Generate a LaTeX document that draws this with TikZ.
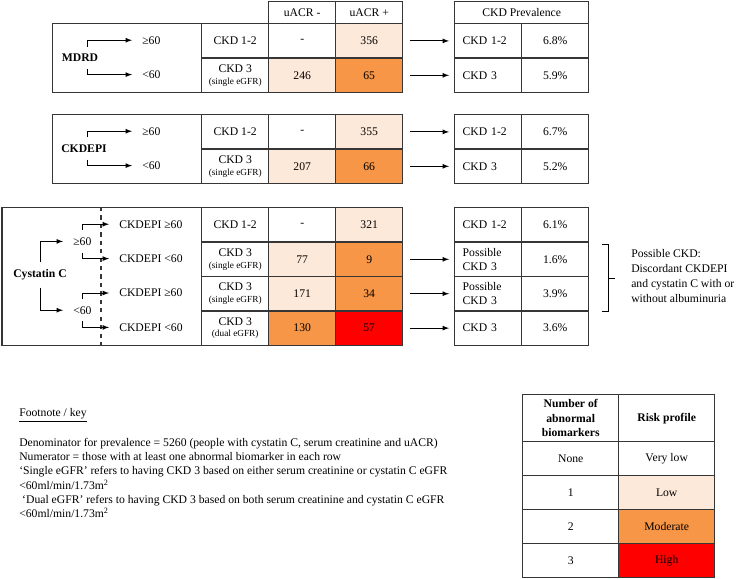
\documentclass[tikz,border=0pt]{standalone}
\usepackage{fontspec}
\setmainfont{Liberation Serif}
\usepackage{xcolor}
\definecolor{riskLow}{HTML}{FDE9D9}
\definecolor{riskMod}{HTML}{F79646}
\definecolor{riskHigh}{HTML}{FF0000}
\definecolor{gridLine}{HTML}{363636}
\newcommand{\subnote}[1]{{\fontsize{6.6}{8.5}\selectfont #1}}

\tikzset{
  cell/.style={draw=gridLine, line width=1pt, anchor=north west, inner sep=0pt,
    minimum width=1.675cm, minimum height=0.86cm, align=center,
    font=\fontsize{8.3}{8.5}\selectfont},
  headcell/.style={cell, minimum height=0.55cm},
  prevcell/.style={cell, align=left, inner xsep=0.2cm, text width=1.275cm,
    font=\fontsize{8.3}{10}\selectfont},
  keycell/.style={cell, minimum width=2.4cm, minimum height=0.85cm},
  blockbox/.style={cell, minimum width=3.725cm, minimum height=1.72cm},
  splitlab/.style={anchor=west, inner xsep=0pt, inner ysep=5pt, font=\fontsize{8.3}{10}\selectfont},
  blocklab/.style={inner xsep=0pt, inner ysep=5pt, font=\fontsize{8.3}{10}\selectfont\bfseries},
  branch/.style={-latex, line width=0.6pt, shorten >=0.25cm},
  flow/.style={-latex, line width=0.6pt, shorten <=0.175cm, shorten >=0.125cm},
  footline/.style={inner sep=0pt, align=left, font=\fontsize{8.3}{10.1}\selectfont},
}

\begin{document}
\begin{tikzpicture}
  \useasboundingbox (0cm,0cm) rectangle (18.625cm,-14.45cm);

  % column heads
  \node[headcell] (hneg) at (6.7cm,-0.025cm) {uACR -};
  \node[headcell] (hpos) at (8.375cm,-0.025cm) {uACR +};
  \node[headcell, minimum width=3.35cm] (hprev) at (11.35cm,-0.025cm) {CKD Prevalence};

  % MDRD
  \node[blockbox] (mdrdbox) at (1.3cm,-0.575cm) {};
  \node[blocklab] (mdrd) at (2cm,-1.45cm) {MDRD};
  \node[splitlab] (mdrdge) at (3.55cm,-1.005cm) {≥60};
  \node[splitlab] (mdrdlt) at (3.55cm,-1.865cm) {<60};
  \coordinate (mdrdfork) at (2.175cm,-1.45cm);
  \draw[branch] (mdrdfork |- mdrd.north) |- (mdrdge.west);
  \draw[branch] (mdrdfork |- mdrd.south) |- (mdrdlt.west);
  \node[cell] (m1) at (5.025cm,-0.575cm) {CKD 1-2};
  \node[cell] (m1n) at (6.7cm,-0.575cm) {-};
  \node[cell, fill=riskLow] (m1p) at (8.375cm,-0.575cm) {356};
  \node[cell] (m2) at (5.025cm,-1.435cm) {CKD 3\\\subnote{(single eGFR)}};
  \node[cell, fill=riskLow] (m2n) at (6.7cm,-1.435cm) {246};
  \node[cell, fill=riskMod] (m2p) at (8.375cm,-1.435cm) {65};
  \node[prevcell] (mp1) at (11.35cm,-0.575cm) {CKD 1-2};
  \node[cell] (mp1v) at (13.025cm,-0.575cm) {6.8\%};
  \node[prevcell] (mp2) at (11.35cm,-1.435cm) {CKD 3};
  \node[cell] (mp2v) at (13.025cm,-1.435cm) {5.9\%};
  \draw[flow] (m1p.east) -- (mp1.west);
  \draw[flow] (m2p.east) -- (mp2.west);

  % CKDEPI
  \node[blockbox] (epibox) at (1.3cm,-2.85cm) {};
  \node[blocklab] (epi) at (2.1cm,-3.71cm) {CKDEPI};
  \node[splitlab] (epige) at (3.55cm,-3.28cm) {≥60};
  \node[splitlab] (epilt) at (3.55cm,-4.14cm) {<60};
  \coordinate (epifork) at (2.175cm,-3.71cm);
  \draw[branch] (epifork |- epi.north) |- (epige.west);
  \draw[branch] (epifork |- epi.south) |- (epilt.west);
  \node[cell] (e1) at (5.025cm,-2.85cm) {CKD 1-2};
  \node[cell] (e1n) at (6.7cm,-2.85cm) {-};
  \node[cell, fill=riskLow] (e1p) at (8.375cm,-2.85cm) {355};
  \node[cell] (e2) at (5.025cm,-3.71cm) {CKD 3\\\subnote{(single eGFR)}};
  \node[cell, fill=riskLow] (e2n) at (6.7cm,-3.71cm) {207};
  \node[cell, fill=riskMod] (e2p) at (8.375cm,-3.71cm) {66};
  \node[prevcell] (ep1) at (11.35cm,-2.85cm) {CKD 1-2};
  \node[cell] (ep1v) at (13.025cm,-2.85cm) {6.7\%};
  \node[prevcell] (ep2) at (11.35cm,-3.71cm) {CKD 3};
  \node[cell] (ep2v) at (13.025cm,-3.71cm) {5.2\%};
  \draw[flow] (e1p.east) -- (ep1.west);
  \draw[flow] (e2p.east) -- (ep2.west);

  % Cystatin C
  \node[cell, minimum width=4.995cm, minimum height=3.44cm] (cysbox) at (0.03cm,-5.175cm) {};
  \draw[gridLine, line width=1pt, dashed] (2.525cm,-5.175cm) -- (2.525cm,-8.615cm);
  \node[blocklab] (cys) at (1cm,-6.875cm) {Cystatin C};
  \node[splitlab] (cysge) at (1.825cm,-6.035cm) {≥60};
  \node[splitlab] (cyslt) at (1.825cm,-7.755cm) {<60};
  \node[splitlab] (cysr1) at (2.975cm,-5.605cm) {CKDEPI ≥60};
  \node[splitlab] (cysr2) at (2.975cm,-6.465cm) {CKDEPI <60};
  \node[splitlab] (cysr3) at (2.975cm,-7.325cm) {CKDEPI ≥60};
  \node[splitlab] (cysr4) at (2.975cm,-8.185cm) {CKDEPI <60};
  \draw[branch] (cys.north) |- (cysge.west);
  \draw[branch] (cys.south) |- (cyslt.west);
  \draw[branch] (cysge.north) |- (cysr1.west);
  \draw[branch] (cysge.south) |- (cysr2.west);
  \draw[branch] (cyslt.north) |- (cysr3.west);
  \draw[branch] (cyslt.south) |- (cysr4.west);
  \node[cell] (c1) at (5.025cm,-5.175cm) {CKD 1-2};
  \node[cell] (c1n) at (6.7cm,-5.175cm) {-};
  \node[cell, fill=riskLow] (c1p) at (8.375cm,-5.175cm) {321};
  \node[cell] (c2) at (5.025cm,-6.035cm) {CKD 3\\\subnote{(single eGFR)}};
  \node[cell, fill=riskLow] (c2n) at (6.7cm,-6.035cm) {77};
  \node[cell, fill=riskMod] (c2p) at (8.375cm,-6.035cm) {9};
  \node[cell] (c3) at (5.025cm,-6.895cm) {CKD 3\\\subnote{(single eGFR)}};
  \node[cell, fill=riskLow] (c3n) at (6.7cm,-6.895cm) {171};
  \node[cell, fill=riskMod] (c3p) at (8.375cm,-6.895cm) {34};
  \node[cell] (c4) at (5.025cm,-7.755cm) {CKD 3\\\subnote{(dual eGFR)}};
  \node[cell, fill=riskMod] (c4n) at (6.7cm,-7.755cm) {130};
  \node[cell, fill=riskHigh] (c4p) at (8.375cm,-7.755cm) {57};
  \node[prevcell] (cp1) at (11.35cm,-5.175cm) {CKD 1-2};
  \node[cell] (cp1v) at (13.025cm,-5.175cm) {6.1\%};
  \node[prevcell] (cp2) at (11.35cm,-6.035cm) {Possible\\CKD 3};
  \node[cell] (cp2v) at (13.025cm,-6.035cm) {1.6\%};
  \node[prevcell] (cp3) at (11.35cm,-6.895cm) {Possible\\CKD 3};
  \node[cell] (cp3v) at (13.025cm,-6.895cm) {3.9\%};
  \node[prevcell] (cp4) at (11.35cm,-7.755cm) {CKD 3};
  \node[cell] (cp4v) at (13.025cm,-7.755cm) {3.6\%};
  \draw[flow] (c2p.east) -- (cp2.west);
  \draw[flow] (c3p.east) -- (cp3.west);
  \draw[flow] (c4p.east) -- (cp4.west);

  % bracket and note
  \draw[line width=0.7pt] (15.05cm,-6.1cm) -- (15.2cm,-6.1cm) -- (15.2cm,-7.775cm) -- (15.05cm,-7.775cm);
  \draw[line width=0.7pt] (15.2cm,-6.95cm) -- (15.375cm,-6.95cm);
  \node[footline, anchor=west, font=\fontsize{8.3}{10.6}\selectfont] (possnote) at (15.775cm,-6.9cm)
    {Possible CKD:\\Discordant CKDEPI\\and cystatin C with or\\without albuminuria};

  % footnote
  \node[footline, anchor=west] (fnhead) at (0.475cm,-10.375cm) {\underline{Footnote / key}};
  \node[footline, anchor=north west] (fnbody) at (0.475cm,-10.95cm)
    {Denominator for prevalence = 5260 (people with cystatin C, serum creatinine and uACR)\\
     Numerator = those with at least one abnormal biomarker in each row\\
     ‘Single eGFR’ refers to having CKD 3 based on either serum creatinine or cystatin C eGFR\\
     <60ml/min/1.73m\textsuperscript{2}\\
     \hspace{0.25em}‘Dual eGFR’ refers to having CKD 3 based on both serum creatinine and cystatin C eGFR\\
     <60ml/min/1.73m\textsuperscript{2}};

  % key
  \node[keycell, minimum height=1.175cm, font=\fontsize{8.3}{10.3}\selectfont\bfseries] (khead1) at (13.05cm,-9.85cm) {Number of\\abnormal\\biomarkers};
  \node[keycell, minimum height=1.175cm, font=\fontsize{8.3}{10.3}\selectfont\bfseries] (khead2) at (15.45cm,-9.85cm) {Risk profile};
  \node[keycell] (k1a) at (13.05cm,-11.025cm) {None};
  \node[keycell] (k1b) at (15.45cm,-11.025cm) {Very low};
  \node[keycell] (k2a) at (13.05cm,-11.875cm) {1};
  \node[keycell, fill=riskLow] (k2b) at (15.45cm,-11.875cm) {Low};
  \node[keycell] (k3a) at (13.05cm,-12.725cm) {2};
  \node[keycell, fill=riskMod] (k3b) at (15.45cm,-12.725cm) {Moderate};
  \node[keycell] (k4a) at (13.05cm,-13.575cm) {3};
  \node[keycell, fill=riskHigh] (k4b) at (15.45cm,-13.575cm) {High};
\end{tikzpicture}
\end{document}
